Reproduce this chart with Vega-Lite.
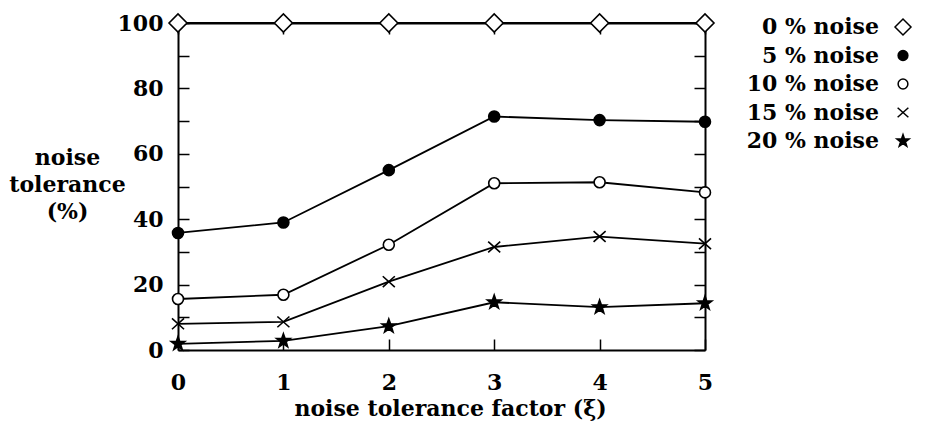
{
  "$schema": "https://vega.github.io/schema/vega-lite/v6.json",
  "width": 527,
  "height": 327,
  "autosize": {"type": "none"},
  "padding": {"left": 178, "top": 23, "right": 232, "bottom": 73},
  "background": "white",
  "config": {
    "view": {"stroke": null},
    "font": "DejaVu Serif",
    "axis": {
      "grid": false,
      "domainColor": "black",
      "domainWidth": 2,
      "tickColor": "black",
      "tickWidth": 1.5,
      "tickSize": -11,
      "labelFont": "DejaVu Serif",
      "labelFontWeight": "bold",
      "labelFontSize": 22,
      "labelColor": "black",
      "labelFlush": false,
      "labelOverlap": false,
      "titleFont": "DejaVu Serif",
      "titleFontWeight": "bold",
      "titleFontSize": 22,
      "titleColor": "black"
    },
    "legend": {
      "labelFont": "DejaVu Serif",
      "labelFontWeight": "bold",
      "labelFontSize": 22,
      "labelColor": "black"
    }
  },
  "data": {
    "values": [
      {"xi": 0, "tol": 100, "series": "0 % noise"},
      {"xi": 1, "tol": 100, "series": "0 % noise"},
      {"xi": 2, "tol": 100, "series": "0 % noise"},
      {"xi": 3, "tol": 100, "series": "0 % noise"},
      {"xi": 4, "tol": 100, "series": "0 % noise"},
      {"xi": 5, "tol": 100, "series": "0 % noise"},
      {"xi": 0, "tol": 35.8, "series": "5 % noise"},
      {"xi": 1, "tol": 39, "series": "5 % noise"},
      {"xi": 2, "tol": 55, "series": "5 % noise"},
      {"xi": 3, "tol": 71.4, "series": "5 % noise"},
      {"xi": 4, "tol": 70.3, "series": "5 % noise"},
      {"xi": 5, "tol": 69.8, "series": "5 % noise"},
      {"xi": 0, "tol": 15.6, "series": "10 % noise"},
      {"xi": 1, "tol": 16.9, "series": "10 % noise"},
      {"xi": 2, "tol": 32.2, "series": "10 % noise"},
      {"xi": 3, "tol": 51, "series": "10 % noise"},
      {"xi": 4, "tol": 51.3, "series": "10 % noise"},
      {"xi": 5, "tol": 48.2, "series": "10 % noise"},
      {"xi": 0, "tol": 8, "series": "15 % noise"},
      {"xi": 1, "tol": 8.6, "series": "15 % noise"},
      {"xi": 2, "tol": 20.9, "series": "15 % noise"},
      {"xi": 3, "tol": 31.5, "series": "15 % noise"},
      {"xi": 4, "tol": 34.7, "series": "15 % noise"},
      {"xi": 5, "tol": 32.5, "series": "15 % noise"},
      {"xi": 0, "tol": 1.9, "series": "20 % noise"},
      {"xi": 1, "tol": 2.8, "series": "20 % noise"},
      {"xi": 2, "tol": 7.3, "series": "20 % noise"},
      {"xi": 3, "tol": 14.6, "series": "20 % noise"},
      {"xi": 4, "tol": 13.1, "series": "20 % noise"},
      {"xi": 5, "tol": 14.3, "series": "20 % noise"}
    ]
  },
  "layer": [
    {
      "mark": {"type": "line", "stroke": "black", "strokeWidth": 1.8},
      "encoding": {
        "x": {
          "field": "xi", "type": "quantitative",
          "scale": {"domain": [0, 5], "nice": false, "zero": false},
          "axis": {
            "orient": "bottom",
            "values": [0, 1, 2, 3, 4, 5],
            "format": "d",
            "labelPadding": 33,
            "title": "noise tolerance factor (ξ)",
            "titleX": 272,
            "titleY": 65,
            "titleAlign": "center",
            "titleBaseline": "alphabetic"
          }
        },
        "y": {
          "field": "tol", "type": "quantitative",
          "scale": {"domain": [0, 100], "nice": false},
          "axis": {
            "orient": "left",
            "values": [0, 10, 20, 30, 40, 50, 60, 70, 80, 90, 100],
            "labelExpr": "datum.value % 20 === 0 ? datum.label : ''",
            "labelPadding": 26,
            "title": ["noise", "tolerance", "(%)"],
            "titleAngle": 0,
            "titleX": -111,
            "titleY": 134,
            "titleAlign": "center",
            "titleBaseline": "middle",
            "titleLineHeight": 27
          }
        },
        "detail": {"field": "series", "type": "nominal"}
      }
    },
    {
      "mark": {"type": "point", "stroke": "black", "strokeWidth": 1.6, "size": 324, "opacity": 1},
      "encoding": {
        "x": {
          "field": "xi", "type": "quantitative",
          "scale": {"domain": [0, 5], "nice": false, "zero": false},
          "axis": {"orient": "top", "values": [0, 1, 2, 3, 4, 5], "labels": false, "title": null}
        },
        "y": {
          "field": "tol", "type": "quantitative",
          "scale": {"domain": [0, 100], "nice": false},
          "axis": {"orient": "right", "values": [0, 10, 20, 30, 40, 50, 60, 70, 80, 90, 100], "labels": false, "title": null}
        },
        "shape": {
          "field": "series", "type": "nominal",
          "scale": {
            "domain": ["0 % noise", "5 % noise", "10 % noise", "15 % noise", "20 % noise"],
            "range": [
              "M-1,0L0,-1L1,0L0,1Z",
              "M-0.61,0A0.61,0.61,0,1,0,0.61,0A0.61,0.61,0,1,0,-0.61,0Z",
              "M-0.61,0A0.61,0.61,0,1,0,0.61,0A0.61,0.61,0,1,0,-0.61,0Z",
              "M-0.67,-0.6L0.67,0.6M-0.67,0.6L0.67,-0.6",
              "M0,-0.8L0.188,-0.259L0.761,-0.247L0.304,0.099L0.47,0.647L0,0.32L-0.47,0.647L-0.304,0.099L-0.761,-0.247L-0.188,-0.259Z"
            ]
          },
          "legend": {
            "title": null,
            "orient": "none",
            "legendX": 714,
            "legendY": -7,
            "padding": 0,
            "symbolSize": 256,
            "symbolStrokeColor": "black",
            "symbolStrokeWidth": 1.5,
            "symbolFillColor": "white",
            "labelAlign": "right",
            "labelOffset": -35,
            "rowPadding": 6.5,
            "encode": {
              "symbols": {
                "update": {
                  "stroke": {"value": "black"},
                  "strokeWidth": {"value": 1.5},
                  "size": {"value": 256},
                  "opacity": {"value": 1},
                  "fill": {"signal": "datum.value === '5 % noise' || datum.value === '20 % noise' ? 'black' : 'white'"}
                }
              }
            }
          }
        },
        "fill": {
          "field": "series", "type": "nominal",
          "scale": {
            "domain": ["0 % noise", "5 % noise", "10 % noise", "15 % noise", "20 % noise"],
            "range": ["white", "black", "white", "black", "black"]
          },
          "legend": null
        }
      }
    }
  ],
  "resolve": {
    "scale": {"x": "independent", "y": "independent"},
    "axis": {"x": "independent", "y": "independent"}
  }
}
